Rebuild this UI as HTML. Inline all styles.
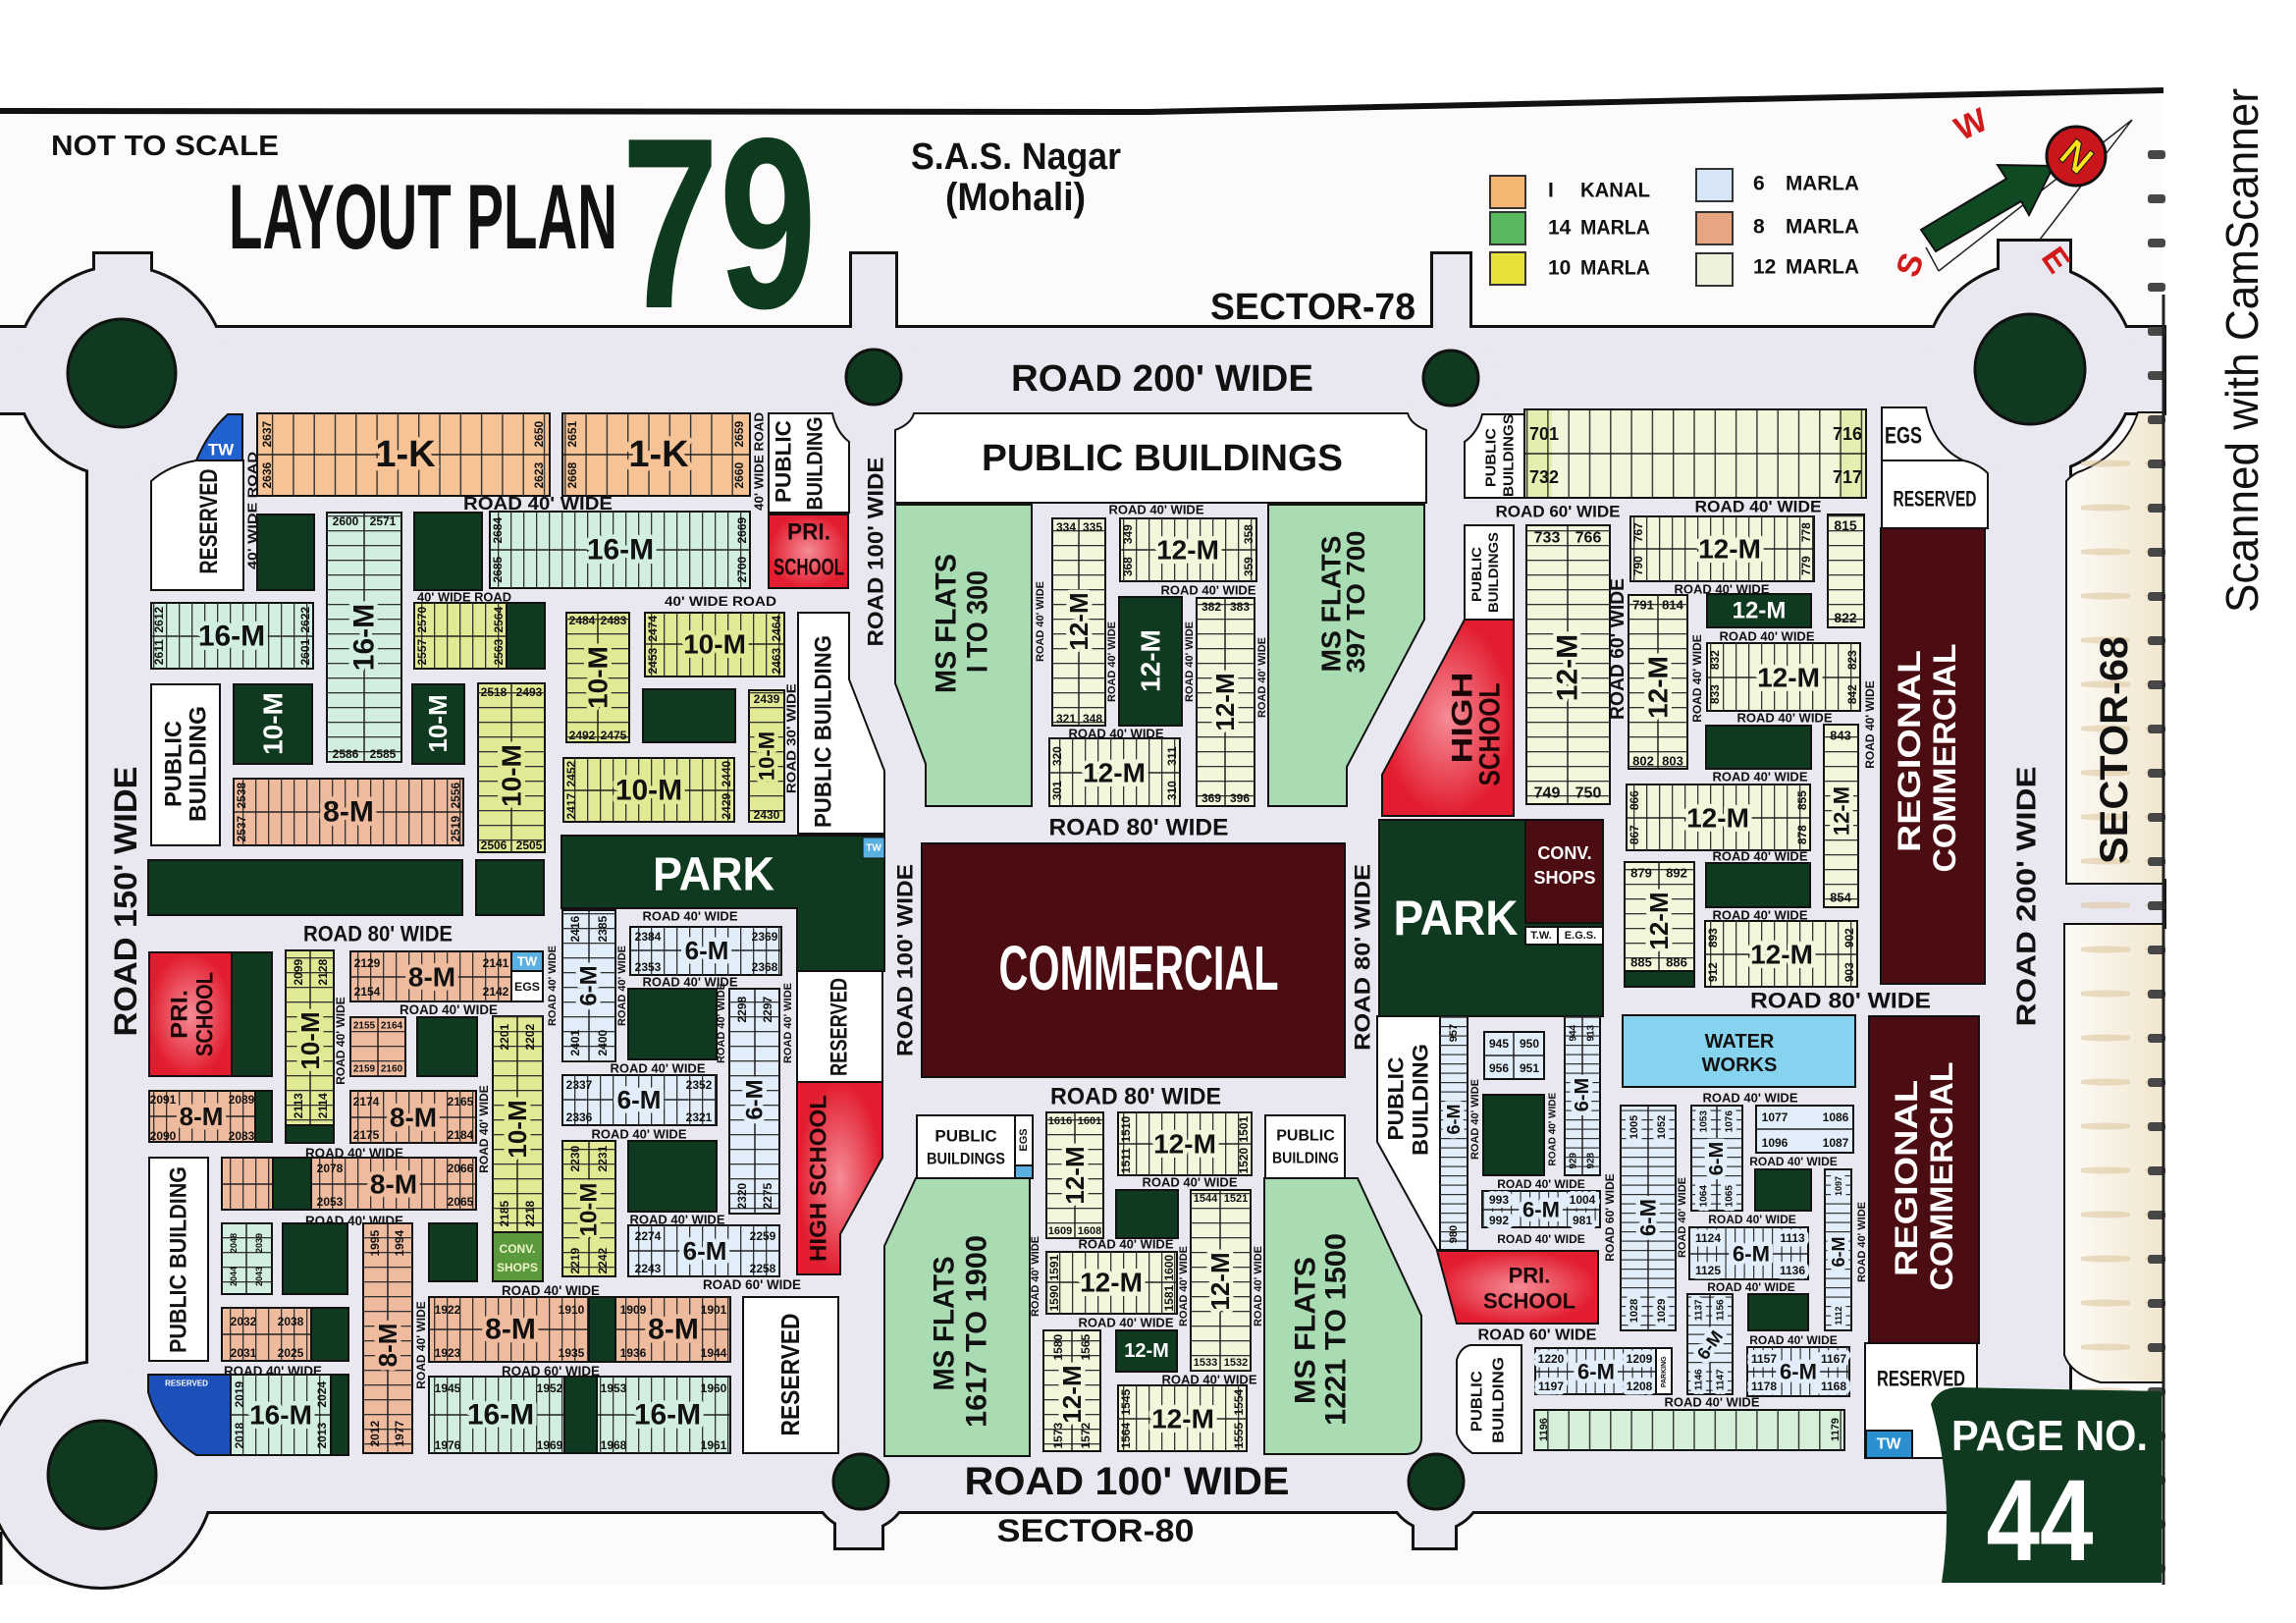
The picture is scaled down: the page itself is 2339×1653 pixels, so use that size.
<!DOCTYPE html>
<html><head><meta charset="utf-8"><title>Layout Plan 79</title>
<style>
html,body{margin:0;padding:0;background:#fff}
svg{display:block}
text{font-family:"Liberation Sans",Arial,sans-serif;font-weight:bold;fill:#111;text-anchor:middle;dominant-baseline:central}
.bl{dominant-baseline:alphabetic}
.st{text-anchor:start}
.v{transform-box:fill-box;transform-origin:center;transform:rotate(-90deg)}
.o{stroke:#111;stroke-width:2}
.fk{fill:#f6c396}.fg{fill:#d2eee0}.fy{fill:#e2e995}.fs{fill:#efbb9e}.fc{fill:#f4f6dc}.fb{fill:#e1edf8}
.hk{paint-order:stroke;stroke:#f6c396;stroke-width:9px;stroke-linejoin:round}
.hg{paint-order:stroke;stroke:#d2eee0;stroke-width:9px;stroke-linejoin:round}
.hy{paint-order:stroke;stroke:#e2e995;stroke-width:9px;stroke-linejoin:round}
.hs{paint-order:stroke;stroke:#efbb9e;stroke-width:9px;stroke-linejoin:round}
.hc{paint-order:stroke;stroke:#f4f6dc;stroke-width:9px;stroke-linejoin:round}
.hb{paint-order:stroke;stroke:#e1edf8;stroke-width:9px;stroke-linejoin:round}
.d{fill:#0f3a1f;stroke:#111;stroke-width:2}
.m{fill:#4b0d12;stroke:#111;stroke-width:2}
.w{fill:#fff;stroke:#111;stroke-width:2}
.red{fill:url(#rg);stroke:#111;stroke-width:2}
.ms{fill:#a9dcb3;stroke:#111;stroke-width:2}
.pv{fill:url(#pv)}.pk{fill:url(#pk)}.ph{fill:url(#ph)}.p9{fill:url(#p9)}.q9{fill:url(#q9)}
.ln{stroke:#222;stroke-width:1.5;fill:none}
.n{font-size:12px}
.rd{font-size:14px}
.wt{fill:#fff}
.dk{fill:#1c0506}
</style></head><body>
<svg width="2339" height="1653" viewBox="0 0 2339 1653" xmlns="http://www.w3.org/2000/svg">
<defs>
<pattern id="pv" width="13" height="8" patternUnits="userSpaceOnUse"><rect width="1.3" height="8" fill="#333"/></pattern>
<pattern id="pk" width="21.3" height="8" patternUnits="userSpaceOnUse"><rect width="1.4" height="8" fill="#333"/></pattern>
<pattern id="ph" width="8" height="15" patternUnits="userSpaceOnUse"><rect width="8" height="1.3" fill="#333"/></pattern>
<pattern id="p9" width="8" height="9.5" patternUnits="userSpaceOnUse"><rect width="8" height="1.2" fill="#333"/></pattern>
<pattern id="q9" width="9.5" height="8" patternUnits="userSpaceOnUse"><rect width="1.2" height="8" fill="#333"/></pattern>
<pattern id="ring" width="24" height="45" patternUnits="userSpaceOnUse"><rect x="4" y="18" width="18" height="9" rx="3" fill="#474747"/></pattern>
<pattern id="streak" width="70" height="45" patternUnits="userSpaceOnUse"><ellipse cx="45" cy="22" rx="30" ry="3.5" fill="#dcc49a" opacity=".55"/></pattern>
<radialGradient id="rg"><stop offset="0" stop-color="#f58c97"/><stop offset="1" stop-color="#e21d2f"/></radialGradient>
<linearGradient id="sec" x1="0" x2="1"><stop offset="0" stop-color="#fdfbf6"/><stop offset="1" stop-color="#f1e6cf"/></linearGradient>
<g id="roads">
<rect x="0" y="334" width="2204" height="86"/>
<rect x="90" y="378" width="63" height="1128"/>
<rect x="150" y="1487" width="1850" height="52"/>
<rect x="2021" y="376" width="87" height="1120"/>
<rect x="150" y="418" width="1875" height="1075"/>
<circle cx="123" cy="378" r="106"/>
<rect x="97" y="259" width="56" height="119"/>
<circle cx="2068" cy="376" r="106"/>
<rect x="2037" y="246" width="71" height="130"/>
<circle cx="103" cy="1502" r="114"/>
<circle cx="890" cy="384" r="48"/><rect x="868" y="259" width="44" height="125"/>
<circle cx="1478" cy="385" r="48"/><rect x="1460" y="259" width="37" height="126"/>
<circle cx="877" cy="1510" r="48"/><rect x="852" y="1510" width="46" height="66"/>
<circle cx="1462" cy="1510" r="48"/><rect x="1441" y="1510" width="41" height="66"/>
<rect x="2100" y="898" width="104" height="45"/>
</g>
</defs>

<rect width="2339" height="1653" fill="#fff"/>
<polygon points="0,113 1170,114 2204,92 2204,1614 0,1614" fill="#fcfafa"/>
<polyline points="0,113 1170,114 2204,92" fill="none" stroke="#111" stroke-width="6"/>

<!-- header -->
<text class="bl st" x="52" y="158" font-size="29" textLength="232" lengthAdjust="spacingAndGlyphs">NOT TO SCALE</text>
<text class="bl st" x="233" y="253" font-size="94" textLength="396" lengthAdjust="spacingAndGlyphs">LAYOUT PLAN</text>
<text class="bl st" x="633" y="313" font-size="248" textLength="199" lengthAdjust="spacingAndGlyphs" style="fill:#0e3a1d">79</text>
<text class="bl st" x="928" y="172" font-size="38" textLength="214" lengthAdjust="spacingAndGlyphs">S.A.S. Nagar</text>
<text class="bl st" x="963" y="214" font-size="40" textLength="143" lengthAdjust="spacingAndGlyphs">(Mohali)</text>
<text class="bl st" x="1233" y="325" font-size="38" textLength="209" lengthAdjust="spacingAndGlyphs">SECTOR-78</text>

<!-- scanner mark -->
<text class="v" x="2284" y="357" font-size="46" textLength="534" lengthAdjust="spacingAndGlyphs" style="font-weight:normal">Scanned with CamScanner</text>

<!-- roads -->
<use href="#roads" fill="#111" stroke="#111" stroke-width="6"/>
<use href="#roads" fill="#e9e7f0"/>

<!-- legend -->
<rect x="1518" y="179" width="36" height="33" fill="#f7b774" stroke="#333" stroke-width="2"/>
<rect x="1518" y="216" width="36" height="33" fill="#58b860" stroke="#333" stroke-width="2"/>
<rect x="1518" y="257" width="36" height="33" fill="#e5e03a" stroke="#333" stroke-width="2"/>
<rect x="1728" y="172" width="37" height="33" fill="#d7e6f7" stroke="#333" stroke-width="2"/>
<rect x="1728" y="216" width="37" height="33" fill="#e8a483" stroke="#333" stroke-width="2"/>
<rect x="1728" y="258" width="37" height="33" fill="#eef2dc" stroke="#333" stroke-width="2"/>
<g font-size="21">
<text class="st" x="1577" y="194">I</text><text class="st" x="1610" y="194" textLength="71" lengthAdjust="spacingAndGlyphs">KANAL</text>
<text class="st" x="1577" y="232">14</text><text class="st" x="1610" y="232" textLength="71" lengthAdjust="spacingAndGlyphs">MARLA</text>
<text class="st" x="1577" y="273">10</text><text class="st" x="1610" y="273" textLength="71" lengthAdjust="spacingAndGlyphs">MARLA</text>
<text class="st" x="1786" y="187">6</text><text class="st" x="1819" y="187" textLength="75" lengthAdjust="spacingAndGlyphs">MARLA</text>
<text class="st" x="1786" y="231">8</text><text class="st" x="1819" y="231" textLength="75" lengthAdjust="spacingAndGlyphs">MARLA</text>
<text class="st" x="1786" y="272">12</text><text class="st" x="1819" y="272" textLength="75" lengthAdjust="spacingAndGlyphs">MARLA</text>
</g>

<!-- sector 68 blocks -->
<path d="M2105,900 L2105,490 Q2112,482 2122,479 Q2165,460 2178,420 L2204,420 L2204,900 Z" fill="url(#sec)" stroke="#111" stroke-width="2"/>
<path d="M2103,941 L2204,941 L2204,1408 L2140,1408 Q2110,1400 2103,1380 Z" fill="url(#sec)" stroke="#111" stroke-width="2"/>
<rect x="2120" y="440" width="70" height="1170" fill="url(#streak)"/>
<text class="v" x="2154" y="764" font-size="40" textLength="232" lengthAdjust="spacingAndGlyphs">SECTOR-68</text>

<!-- compass (drawn after roads) -->
<path d="M1975,276 L2172,122 M2078,244 L2172,122 M1975,276 L1962,252" stroke="#222" stroke-width="1.5" fill="none"/>
<polygon points="1957,234 2044,182 2035,168 2092,169 2067,219 2059,205 1972,256" fill="#0f4a22" stroke="#111" stroke-width="2"/>
<circle cx="2115" cy="159" r="30" fill="#c8161c" stroke="#111" stroke-width="3"/>
<text x="2115" y="160" font-size="40" transform="rotate(40 2115 160)" style="fill:#ffe21a;stroke:#111;stroke-width:1">N</text>
<text x="2008" y="127" font-size="34" transform="rotate(-25 2008 127)" style="fill:#d11a1a">W</text>
<text x="1946" y="270" font-size="34" transform="rotate(-70 1946 270)" style="fill:#d11a1a">S</text>
<text x="2094" y="265" font-size="34" transform="rotate(55 2094 265)" style="fill:#d11a1a">E</text>

<!-- roundabout centers -->
<g fill="#0f3a1f" stroke="#111" stroke-width="3">
<circle cx="124" cy="380" r="55"/><circle cx="2068" cy="376" r="56"/><circle cx="104" cy="1502" r="55"/>
<circle cx="890" cy="384" r="28"/><circle cx="1478" cy="385" r="28"/><circle cx="877" cy="1509" r="28"/><circle cx="1463" cy="1509" r="28"/>
</g>

<!-- road labels outer -->
<text class="bl" x="1184" y="398" font-size="38" textLength="308" lengthAdjust="spacingAndGlyphs">ROAD 200' WIDE</text>
<text class="v" x="128" y="918" font-size="32" textLength="275" lengthAdjust="spacingAndGlyphs">ROAD 150' WIDE</text>
<text class="bl" x="1148" y="1522" font-size="40" textLength="331" lengthAdjust="spacingAndGlyphs">ROAD 100' WIDE</text>
<text class="bl" x="1116" y="1570" font-size="32" textLength="201" lengthAdjust="spacingAndGlyphs">SECTOR-80</text>
<text class="v" x="2064" y="913" font-size="28" textLength="265" lengthAdjust="spacingAndGlyphs">ROAD 200' WIDE</text>

<!-- ================= LEFT TOP ================= -->
<path d="M232,422 L247,422 L247,469 L200,469 Q212,440 232,422 Z" fill="#2062cf" stroke="#111" stroke-width="2"/>
<text x="225" y="458" font-size="17" class="wt">TW</text>
<path class="w" d="M200,469 L248,469 L248,601 L154,601 L154,490 Q172,474 200,469 Z"/>
<text class="v" x="213" y="531" font-size="25" textLength="107" lengthAdjust="spacingAndGlyphs">RESERVED</text>
<text class="v" x="257" y="520" font-size="13" textLength="120" lengthAdjust="spacingAndGlyphs">40' WIDE ROAD</text>

<rect class="fk o" x="262" y="421" width="298" height="84"/><rect class="pk" x="262" y="421" width="298" height="84"/><path class="ln" d="M262 463H560"/>
<text class="hk" x="413" y="463" font-size="38">1-K</text>
<text class="v n" x="272" y="442">2637</text><text class="v n" x="272" y="484">2636</text><text class="v n" x="549" y="442">2650</text><text class="v n" x="549" y="484">2623</text>
<rect class="fk o" x="573" y="421" width="191" height="84"/><rect class="pk" x="573" y="421" width="191" height="84"/><path class="ln" d="M573 463H764"/>
<text class="hk" x="671" y="463" font-size="38">1-K</text>
<text class="v n" x="583" y="442">2651</text><text class="v n" x="583" y="484">2668</text><text class="v n" x="753" y="442">2659</text><text class="v n" x="753" y="484">2660</text>
<text x="548" y="513" font-size="18" textLength="152" lengthAdjust="spacingAndGlyphs">ROAD 40' WIDE</text>
<text class="v" x="773" y="470" font-size="13" textLength="100" lengthAdjust="spacingAndGlyphs">40' WIDE ROAD</text>

<path class="w" d="M783,421 L848,421 Q852,440 865,450 L865,522 L783,522 Z"/>
<text class="v" x="798" y="470" font-size="22" textLength="84" lengthAdjust="spacingAndGlyphs">PUBLIC</text>
<text class="v" x="830" y="472" font-size="22" textLength="95" lengthAdjust="spacingAndGlyphs">BUILDING</text>
<rect class="red" x="783" y="524" width="81" height="75"/>
<text x="824" y="542" font-size="24" class="dk" textLength="44" lengthAdjust="spacingAndGlyphs">PRI.</text>
<text x="824" y="578" font-size="24" class="dk" textLength="72" lengthAdjust="spacingAndGlyphs">SCHOOL</text>

<rect class="d" x="262" y="524" width="58" height="77"/>
<rect class="fg o" x="333" y="522" width="76" height="254"/><rect class="ph" x="333" y="522" width="76" height="254"/><path class="ln" d="M371 522V776"/>
<text class="v hg" x="371" y="649" font-size="30">16-M</text>
<text class="n" x="352" y="531" font-size="11">2600</text><text class="n" x="390" y="531">2571</text><text class="n" x="352" y="768">2586</text><text class="n" x="390" y="768">2585</text>
<rect class="d" x="422" y="522" width="69" height="79"/>
<rect class="fg o" x="499" y="521" width="265" height="78"/><rect class="pv" x="499" y="521" width="265" height="78"/><path class="ln" d="M499 560H764"/>
<text class="hg" x="632" y="560" font-size="30">16-M</text>
<text class="v n" x="507" y="540">2684</text><text class="v n" x="507" y="580">2685</text><text class="v n" x="756" y="540">2669</text><text class="v n" x="756" y="580">2700</text>

<rect class="fg o" x="154" y="614" width="165" height="67"/><rect class="pv" x="154" y="614" width="165" height="67"/><path class="ln" d="M154 648H319"/>
<text class="hg" x="236" y="648" font-size="30">16-M</text>
<text class="v n" x="162" y="631">2612</text><text class="v n" x="162" y="664">2611</text><text class="v n" x="311" y="631">2622</text><text class="v n" x="311" y="664">2601</text>
<text x="473" y="608" font-size="13" textLength="96" lengthAdjust="spacingAndGlyphs">40' WIDE ROAD</text>
<rect class="fy o" x="422" y="614" width="94" height="67"/><rect class="pv" x="422" y="614" width="94" height="67"/><path class="ln" d="M422 648H516"/>
<text class="v n" x="430" y="631">2570</text><text class="v n" x="430" y="664">2557</text><text class="v n" x="508" y="631">2564</text><text class="v n" x="508" y="664">2563</text>
<rect class="d" x="516" y="614" width="39" height="67"/>
<text x="734" y="612" font-size="14" textLength="114" lengthAdjust="spacingAndGlyphs">40' WIDE ROAD</text>
<rect class="fy o" x="577" y="624" width="64" height="132"/><rect class="ph" x="577" y="624" width="64" height="132"/><path class="ln" d="M609 624V756"/>
<text class="v hy" x="609" y="690" font-size="28">10-M</text>
<text class="n" x="593" y="632" font-size="11">2484</text><text class="n" x="625" y="632">2483</text><text class="n" x="593" y="749">2492</text><text class="n" x="625" y="749">2475</text>
<rect class="fy o" x="657" y="624" width="142" height="65"/><rect class="pv" x="657" y="624" width="142" height="65"/><path class="ln" d="M657 656H799"/>
<text class="hy" x="728" y="656" font-size="28">10-M</text>
<text class="v n" x="665" y="640">2474</text><text class="v n" x="665" y="673">2453</text><text class="v n" x="791" y="640">2464</text><text class="v n" x="791" y="673">2463</text>

<path class="w" d="M813,624 L865,624 L865,692 L901,785 L901,849 L813,849 Z"/>
<text class="v" x="839" y="745" font-size="24" textLength="196" lengthAdjust="spacingAndGlyphs">PUBLIC BUILDING</text>
<text class="v" x="892" y="562" font-size="22" textLength="193" lengthAdjust="spacingAndGlyphs">ROAD 100' WIDE</text>

<rect class="w" x="154" y="697" width="70" height="164"/>
<text class="v" x="177" y="778" font-size="24" textLength="88" lengthAdjust="spacingAndGlyphs">PUBLIC</text>
<text class="v" x="202" y="778" font-size="24" textLength="118" lengthAdjust="spacingAndGlyphs">BUILDING</text>
<rect class="d" x="238" y="697" width="80" height="81"/><text class="v wt" x="278" y="737" font-size="28">10-M</text>
<rect class="d" x="420" y="697" width="53" height="81"/><text class="v wt" x="446" y="737" font-size="26">10-M</text>
<rect class="fy o" x="487" y="696" width="68" height="172"/><rect class="ph" x="487" y="696" width="68" height="172"/><path class="ln" d="M521 696V868"/>
<text class="v hy" x="521" y="790" font-size="28">10-M</text>
<text class="n" x="503" y="705" font-size="11">2518</text><text class="n" x="539" y="705">2493</text><text class="n" x="503" y="861">2506</text><text class="n" x="539" y="861">2505</text>
<rect class="d" x="655" y="702" width="94" height="54"/>
<rect class="fy o" x="763" y="703" width="36" height="134"/><rect class="ph" x="763" y="703" width="36" height="134"/>
<text class="v hy" x="781" y="770" font-size="22">10-M</text>
<text class="n" x="781" y="712">2439</text><text class="n" x="781" y="830">2430</text>
<text class="v" x="806" y="752" font-size="13" textLength="112" lengthAdjust="spacingAndGlyphs">ROAD 30' WIDE</text>
<rect class="fy o" x="574" y="772" width="174" height="65"/><rect class="pv" x="574" y="772" width="174" height="65"/><path class="ln" d="M574 805H748"/>
<text class="hy" x="661" y="805" font-size="30">10-M</text>
<text class="v n" x="582" y="788">2452</text><text class="v n" x="582" y="821">2417</text><text class="v n" x="740" y="788">2440</text><text class="v n" x="740" y="821">2429</text>
<rect class="fs o" x="238" y="793" width="234" height="68"/><rect class="pv" x="238" y="793" width="234" height="68"/><path class="ln" d="M238 827H472"/>
<text class="hs" x="355" y="827" font-size="30">8-M</text>
<text class="v n" x="246" y="810">2538</text><text class="v n" x="246" y="844">2537</text><text class="v n" x="464" y="810">2556</text><text class="v n" x="464" y="844">2519</text>

<rect class="d" x="151" y="876" width="320" height="56"/>
<rect class="d" x="485" y="876" width="69" height="56"/>
<path class="d" d="M572,851 H901 V989 H812 V925 H572 Z"/>
<text class="wt" x="727" y="891" font-size="48" textLength="124" lengthAdjust="spacingAndGlyphs">PARK</text>
<rect x="879" y="853" width="22" height="21" fill="#5ab0e0" stroke="#111" stroke-width="1"/><text x="890" y="864" font-size="10" class="wt">TW</text>
<text x="385" y="951" font-size="22" textLength="152" lengthAdjust="spacingAndGlyphs">ROAD 80' WIDE</text>

<!-- ================= LEFT LOWER ================= -->
<rect class="red" x="152" y="970" width="84" height="126"/><rect class="d" x="236" y="970" width="41" height="126"/>
<text class="v dk" x="183" y="1033" font-size="24" textLength="50" lengthAdjust="spacingAndGlyphs">PRI.</text>
<text class="v dk" x="209" y="1033" font-size="24" textLength="86" lengthAdjust="spacingAndGlyphs">SCHOOL</text>
<rect class="fy o" x="291" y="968" width="49" height="196"/><rect class="ph" x="291" y="968" width="49" height="196"/><path class="ln" d="M316 968V1164"/>
<rect class="d" x="291" y="1146" width="49" height="18"/>
<text class="v hy" x="316" y="1060" font-size="26">10-M</text>
<text class="v n" x="304" y="990">2099</text><text class="v n" x="329" y="990">2128</text><text class="v n" x="304" y="1126">2113</text><text class="v n" x="329" y="1126">2114</text>
<text class="v" x="347" y="1060" font-size="12">ROAD 40' WIDE</text>
<rect class="fs o" x="357" y="969" width="164" height="51"/><rect class="pv" x="357" y="969" width="164" height="51"/><path class="ln" d="M357 995H521"/>
<text class="hs" x="440" y="995" font-size="28">8-M</text>
<text class="n" x="374" y="981">2129</text><text class="n" x="374" y="1010">2154</text><text class="n" x="505" y="981">2141</text><text class="n" x="505" y="1010">2142</text>
<rect x="521" y="969" width="32" height="20" fill="#5ab0e0" stroke="#111" stroke-width="2"/><text x="537" y="979" font-size="13" class="wt">TW</text>
<rect class="w" x="521" y="989" width="32" height="31"/><text x="537" y="1005" font-size="12" textLength="26" lengthAdjust="spacingAndGlyphs">EGS</text>
<text x="457" y="1028" font-size="14" textLength="100" lengthAdjust="spacingAndGlyphs">ROAD 40' WIDE</text>
<rect class="fs o" x="357" y="1036" width="56" height="60"/><rect class="ph" x="357" y="1036" width="56" height="60"/><path class="ln" d="M385 1036V1096"/>
<text x="371" y="1045" font-size="10">2155</text><text x="399" y="1045" font-size="10">2164</text><text x="371" y="1089" font-size="10">2159</text><text x="399" y="1089" font-size="10">2160</text>
<rect class="d" x="425" y="1036" width="61" height="60"/>
<text class="v" x="493" y="1150" font-size="12">ROAD 40' WIDE</text>
<rect class="fy o" x="502" y="1035" width="51" height="220"/><rect class="ph" x="502" y="1035" width="51" height="220"/><path class="ln" d="M527 1035V1255"/>
<text class="v hy" x="527" y="1150" font-size="26">10-M</text>
<text class="v n" x="514" y="1056">2201</text><text class="v n" x="540" y="1056">2202</text><text class="v n" x="514" y="1236">2185</text><text class="v n" x="540" y="1236">2218</text>
<rect x="502" y="1255" width="51" height="50" fill="#5a9a3c" stroke="#111" stroke-width="2"/>
<text x="527" y="1272" font-size="12" style="fill:#eef3c8">CONV.</text><text x="527" y="1291" font-size="12" style="fill:#eef3c8">SHOPS</text>

<rect class="fs o" x="152" y="1111" width="108" height="52"/><rect class="pv" x="152" y="1111" width="108" height="52"/><path class="ln" d="M152 1137H260"/>
<text class="hs" x="205" y="1137" font-size="26">8-M</text>
<text class="n" x="166" y="1120" font-size="11">2091</text><text class="n" x="166" y="1157" font-size="11">2090</text><text class="n" x="246" y="1120" font-size="11">2089</text><text class="n" x="246" y="1157" font-size="11">2083</text>
<rect class="d" x="260" y="1111" width="17" height="52"/>
<rect class="fs o" x="357" y="1111" width="128" height="53"/><rect class="pv" x="357" y="1111" width="128" height="53"/><path class="ln" d="M357 1138H485"/>
<text class="hs" x="421" y="1138" font-size="28">8-M</text>
<text class="n" x="373" y="1122">2174</text><text class="n" x="373" y="1156">2175</text><text class="n" x="469" y="1122">2165</text><text class="n" x="469" y="1156">2184</text>
<text x="361" y="1174" font-size="14" textLength="100" lengthAdjust="spacingAndGlyphs">ROAD 40' WIDE</text>
<rect class="w" x="152" y="1179" width="60" height="207"/>
<text class="v" x="182" y="1283" font-size="24" textLength="190" lengthAdjust="spacingAndGlyphs">PUBLIC BUILDING</text>
<rect class="fs o" x="226" y="1179" width="259" height="53"/><rect class="pv" x="226" y="1179" width="259" height="53"/><path class="ln" d="M226 1206H485"/>
<rect class="d" x="278" y="1179" width="39" height="53"/>
<text class="hs" x="401" y="1206" font-size="28">8-M</text>
<text class="n" x="336" y="1190">2078</text><text class="n" x="336" y="1224">2053</text><text class="n" x="469" y="1190">2066</text><text class="n" x="469" y="1224">2065</text>
<text x="361" y="1243" font-size="14" textLength="100" lengthAdjust="spacingAndGlyphs">ROAD 40' WIDE</text>
<rect class="fg o" x="226" y="1246" width="51" height="72"/><rect class="ph" x="226" y="1246" width="51" height="72"/><path class="ln" d="M251 1246V1318"/>
<text class="v" x="238" y="1266" font-size="9">2048</text><text class="v" x="264" y="1266" font-size="9">2039</text><text class="v" x="238" y="1300" font-size="9">2044</text><text class="v" x="264" y="1300" font-size="9">2043</text>
<rect class="d" x="288" y="1246" width="66" height="72"/>
<rect class="fs o" x="370" y="1246" width="50" height="234"/><rect class="ph" x="370" y="1246" width="50" height="234"/><path class="ln" d="M395 1246V1480"/>
<text class="v hs" x="395" y="1370" font-size="26">8-M</text>
<text class="v n" x="382" y="1266">1995</text><text class="v n" x="407" y="1266">1994</text><text class="v n" x="382" y="1460">2012</text><text class="v n" x="407" y="1460">1977</text>
<rect class="d" x="437" y="1246" width="49" height="59"/>
<text class="v" x="429" y="1370" font-size="12">ROAD 40' WIDE</text>
<rect class="fs o" x="226" y="1332" width="91" height="54"/><rect class="pv" x="226" y="1332" width="91" height="54"/><path class="ln" d="M226 1359H317"/>
<rect class="d" x="317" y="1332" width="38" height="54"/>
<text class="n" x="248" y="1346">2032</text><text class="n" x="248" y="1378">2031</text><text class="n" x="296" y="1346">2038</text><text class="n" x="296" y="1378">2025</text>
<text x="278" y="1396" font-size="14" textLength="100" lengthAdjust="spacingAndGlyphs">ROAD 40' WIDE</text>
<path d="M151,1400 H235 V1482 H200 Q162,1458 151,1418 Z" fill="#1d4fb8" stroke="#111" stroke-width="2"/>
<text x="190" y="1409" font-size="8" class="wt">RESERVED</text>
<rect class="fg o" x="235" y="1400" width="102" height="82"/><rect class="pv" x="235" y="1400" width="102" height="82"/><path class="ln" d="M235 1441H337"/>
<rect class="d" x="337" y="1400" width="18" height="82"/>
<text class="hg" x="286" y="1441" font-size="28">16-M</text>
<text class="v n" x="244" y="1420">2019</text><text class="v n" x="244" y="1462">2018</text><text class="v n" x="328" y="1420">2024</text><text class="v n" x="328" y="1462">2013</text>

<text x="561" y="1314" font-size="14" textLength="100" lengthAdjust="spacingAndGlyphs">ROAD 40' WIDE</text>
<rect class="fs o" x="437" y="1321" width="163" height="66"/><rect class="pv" x="437" y="1321" width="163" height="66"/><path class="ln" d="M437 1354H600"/>
<rect class="d" x="600" y="1321" width="27" height="66"/>
<rect class="fs o" x="627" y="1321" width="117" height="66"/><rect class="pv" x="627" y="1321" width="117" height="66"/><path class="ln" d="M627 1354H744"/>
<text class="hs" x="520" y="1354" font-size="30">8-M</text><text class="hs" x="686" y="1354" font-size="30">8-M</text>
<text class="n" x="456" y="1334">1922</text><text class="n" x="456" y="1378">1923</text><text class="n" x="582" y="1334">1910</text><text class="n" x="582" y="1378">1935</text>
<text class="n" x="645" y="1334">1909</text><text class="n" x="645" y="1378">1936</text><text class="n" x="727" y="1334">1901</text><text class="n" x="727" y="1378">1944</text>
<text x="561" y="1396" font-size="14" textLength="100" lengthAdjust="spacingAndGlyphs">ROAD 60' WIDE</text>
<rect class="fg o" x="437" y="1402" width="138" height="78"/><rect class="pv" x="437" y="1402" width="138" height="78"/><path class="ln" d="M437 1441H575"/>
<rect class="d" x="575" y="1402" width="33" height="78"/>
<rect class="fg o" x="608" y="1402" width="136" height="78"/><rect class="pv" x="608" y="1402" width="136" height="78"/><path class="ln" d="M608 1441H744"/>
<text class="hg" x="510" y="1441" font-size="30">16-M</text><text class="hg" x="680" y="1441" font-size="30">16-M</text>
<text class="n" x="456" y="1414">1945</text><text class="n" x="456" y="1472">1976</text><text class="n" x="560" y="1414">1952</text><text class="n" x="560" y="1472">1969</text>
<text class="n" x="625" y="1414">1953</text><text class="n" x="625" y="1472">1968</text><text class="n" x="727" y="1414">1960</text><text class="n" x="727" y="1472">1961</text>
<rect class="w" x="757" y="1321" width="97" height="159"/>
<text class="v" x="805" y="1400" font-size="26" textLength="125" lengthAdjust="spacingAndGlyphs">RESERVED</text>
<text x="766" y="1308" font-size="14" textLength="100" lengthAdjust="spacingAndGlyphs">ROAD 60' WIDE</text>

<rect class="fb o" x="573" y="927" width="54" height="154"/><rect class="ph" x="573" y="927" width="54" height="154"/><path class="ln" d="M600 927V1081"/>
<text class="v hb" x="600" y="1004" font-size="24">6-M</text>
<text class="v n" x="586" y="946">2416</text><text class="v n" x="614" y="946">2385</text><text class="v n" x="586" y="1062">2401</text><text class="v n" x="614" y="1062">2400</text>
<text class="v" x="563" y="1004" font-size="11">ROAD 40' WIDE</text>
<text class="v" x="634" y="1004" font-size="11">ROAD 40' WIDE</text>
<text x="703" y="933" font-size="13">ROAD 40' WIDE</text>
<rect class="fb o" x="642" y="944" width="154" height="49"/><rect class="pv" x="642" y="944" width="154" height="49"/><path class="ln" d="M642 968H796"/>
<text class="hb" x="720" y="968" font-size="26">6-M</text>
<text class="n" x="660" y="954">2384</text><text class="n" x="660" y="985">2353</text><text class="n" x="779" y="954">2369</text><text class="n" x="779" y="985">2368</text>
<text x="703" y="1000" font-size="13">ROAD 40' WIDE</text>
<rect class="d" x="640" y="1007" width="90" height="72"/>
<rect class="fb o" x="743" y="1007" width="51" height="229"/><rect class="ph" x="743" y="1007" width="51" height="229"/><path class="ln" d="M769 1007V1236"/>
<text class="v hb" x="769" y="1120" font-size="24">6-M</text>
<text class="v n" x="756" y="1028">2298</text><text class="v n" x="782" y="1028">2297</text><text class="v n" x="756" y="1218">2320</text><text class="v n" x="782" y="1218">2275</text>
<text class="v" x="735" y="1042" font-size="11">ROAD 40' WIDE</text>
<text class="v" x="803" y="1042" font-size="11">ROAD 40' WIDE</text>
<text x="670" y="1088" font-size="13">ROAD 40' WIDE</text>
<rect class="fb o" x="573" y="1095" width="157" height="51"/><rect class="pv" x="573" y="1095" width="157" height="51"/><path class="ln" d="M573 1120H730"/>
<text class="hb" x="651" y="1120" font-size="26">6-M</text>
<text class="n" x="590" y="1105">2337</text><text class="n" x="590" y="1138">2336</text><text class="n" x="712" y="1105">2352</text><text class="n" x="712" y="1138">2321</text>
<text x="651" y="1155" font-size="13">ROAD 40' WIDE</text>
<rect class="fy o" x="573" y="1162" width="54" height="138"/><rect class="ph" x="573" y="1162" width="54" height="138"/><path class="ln" d="M600 1162V1300"/>
<text class="v hy" x="600" y="1232" font-size="24">10-M</text>
<text class="v n" x="586" y="1180">2230</text><text class="v n" x="614" y="1180">2231</text><text class="v n" x="586" y="1284">2219</text><text class="v n" x="614" y="1284">2242</text>
<rect class="d" x="640" y="1162" width="90" height="72"/>
<text x="690" y="1242" font-size="13">ROAD 40' WIDE</text>
<rect class="fb o" x="640" y="1248" width="154" height="52"/><rect class="pv" x="640" y="1248" width="154" height="52"/><path class="ln" d="M640 1274H794"/>
<text class="hb" x="718" y="1274" font-size="26">6-M</text>
<text class="n" x="660" y="1259">2274</text><text class="n" x="660" y="1292">2243</text><text class="n" x="777" y="1259">2259</text><text class="n" x="777" y="1292">2258</text>
<rect class="w" x="812" y="989" width="87" height="113"/>
<text class="v" x="855" y="1046" font-size="24" textLength="100" lengthAdjust="spacingAndGlyphs">RESERVED</text>
<polygon class="red" points="812,1102 899,1102 899,1179 856,1257 856,1298 812,1298"/>
<text class="v dk" x="834" y="1200" font-size="24" textLength="170" lengthAdjust="spacingAndGlyphs">HIGH SCHOOL</text>
<text class="v" x="922" y="978" font-size="22" textLength="196" lengthAdjust="spacingAndGlyphs">ROAD 100' WIDE</text>

<!-- ================= MIDDLE ================= -->
<path class="w" d="M912,438 Q928,432 931,421 L1434,421 Q1437,432 1453,438 L1453,512 L912,512 Z"/>
<text x="1184" y="467" font-size="38" textLength="368" lengthAdjust="spacingAndGlyphs">PUBLIC BUILDINGS</text>
<polygon class="ms" points="912,514 1051,514 1051,821 943,821 943,778 912,696"/>
<text class="v" x="964" y="635" font-size="30" textLength="142" lengthAdjust="spacingAndGlyphs">MS FLATS</text>
<text class="v" x="996" y="633" font-size="30" textLength="104" lengthAdjust="spacingAndGlyphs">I TO 300</text>
<text class="v" x="1060" y="633" font-size="11">ROAD 40' WIDE</text>
<rect class="fc o" x="1072" y="528" width="54" height="211"/><rect class="ph" x="1072" y="528" width="54" height="211"/><path class="ln" d="M1099 528V739"/>
<text class="v hc" x="1099" y="633" font-size="26">12-M</text>
<text class="n" x="1086" y="537">334</text><text class="n" x="1113" y="537">335</text><text class="n" x="1086" y="732">321</text><text class="n" x="1113" y="732">348</text>
<text x="1178" y="519" font-size="13">ROAD 40' WIDE</text>
<rect class="fc o" x="1141" y="528" width="139" height="64"/><rect class="pv" x="1141" y="528" width="139" height="64"/><path class="ln" d="M1141 560H1280"/>
<text class="hc" x="1210" y="560" font-size="28">12-M</text>
<text class="v n" x="1149" y="544">349</text><text class="v n" x="1149" y="577">368</text><text class="v n" x="1272" y="544">358</text><text class="v n" x="1272" y="577">359</text>
<text x="1231" y="601" font-size="13">ROAD 40' WIDE</text>
<rect class="d" x="1140" y="608" width="64" height="131"/><text class="v wt" x="1172" y="673" font-size="28">12-M</text>
<text class="v" x="1133" y="674" font-size="11">ROAD 40' WIDE</text>
<text class="v" x="1212" y="674" font-size="11">ROAD 40' WIDE</text>
<rect class="fc o" x="1219" y="609" width="59" height="212"/><rect class="ph" x="1219" y="609" width="59" height="212"/><path class="ln" d="M1248 609V821"/>
<text class="v hc" x="1248" y="715" font-size="26">12-M</text>
<text class="n" x="1234" y="618">382</text><text class="n" x="1263" y="618">383</text><text class="n" x="1234" y="813">369</text><text class="n" x="1263" y="813">396</text>
<text class="v" x="1286" y="690" font-size="11">ROAD 40' WIDE</text>
<text x="1137" y="747" font-size="13">ROAD 40' WIDE</text>
<rect class="fc o" x="1069" y="752" width="133" height="69"/><rect class="pv" x="1069" y="752" width="133" height="69"/><path class="ln" d="M1069 787H1202"/>
<text class="hc" x="1135" y="787" font-size="28">12-M</text>
<text class="v n" x="1077" y="770">320</text><text class="v n" x="1077" y="805">301</text><text class="v n" x="1194" y="770">311</text><text class="v n" x="1194" y="805">310</text>
<polygon class="ms" points="1292,514 1451,514 1451,631 1372,781 1372,821 1292,821"/>
<text class="v" x="1356" y="615" font-size="28" textLength="139" lengthAdjust="spacingAndGlyphs">MS FLATS</text>
<text class="v" x="1381" y="613" font-size="26" textLength="145" lengthAdjust="spacingAndGlyphs">397 TO 700</text>
<text x="1160" y="843" font-size="24" textLength="183" lengthAdjust="spacingAndGlyphs">ROAD 80' WIDE</text>
<rect class="m" x="939" y="859" width="431" height="238"/>
<text class="bl wt" x="1160" y="1008" font-size="64" textLength="285" lengthAdjust="spacingAndGlyphs">COMMERCIAL</text>
<text class="v" x="1388" y="975" font-size="22" textLength="190" lengthAdjust="spacingAndGlyphs">ROAD 80' WIDE</text>
<text x="1157" y="1117" font-size="24" textLength="174" lengthAdjust="spacingAndGlyphs">ROAD 80' WIDE</text>

<rect class="w" x="934" y="1136" width="100" height="64"/>
<text x="984" y="1157" font-size="17">PUBLIC</text><text x="984" y="1180" font-size="17" textLength="80" lengthAdjust="spacingAndGlyphs">BUILDINGS</text>
<rect class="w" x="1034" y="1136" width="18" height="51"/><text class="v" x="1043" y="1161" font-size="11">EGS</text>
<rect x="1034" y="1187" width="18" height="13" fill="#5ab0e0" stroke="#111" stroke-width="2"/>
<polygon class="ms" points="933,1200 1049,1200 1049,1483 901,1483 901,1269"/>
<text class="v" x="962" y="1348" font-size="30" textLength="137" lengthAdjust="spacingAndGlyphs">MS FLATS</text>
<text class="v" x="995" y="1356" font-size="30" textLength="196" lengthAdjust="spacingAndGlyphs">1617 TO 1900</text>
<rect class="fc o" x="1066" y="1133" width="58" height="128"/><rect class="ph" x="1066" y="1133" width="58" height="128"/><path class="ln" d="M1095 1133V1261"/>
<text class="v hc" x="1095" y="1197" font-size="26">12-M</text>
<text x="1080" y="1142" font-size="11">1616</text><text x="1110" y="1142" font-size="11">1601</text><text x="1080" y="1254" font-size="11">1609</text><text x="1110" y="1254" font-size="11">1608</text>
<rect class="fc o" x="1139" y="1133" width="136" height="64"/><rect class="pv" x="1139" y="1133" width="136" height="64"/><path class="ln" d="M1139 1165H1275"/>
<text class="hc" x="1207" y="1165" font-size="28">12-M</text>
<text class="v n" x="1147" y="1150">1510</text><text class="v n" x="1147" y="1182">1511</text><text class="v n" x="1267" y="1150">1501</text><text class="v n" x="1267" y="1182">1520</text>
<text x="1212" y="1204" font-size="13">ROAD 40' WIDE</text>
<rect class="d" x="1137" y="1212" width="63" height="49"/>
<rect class="fc o" x="1213" y="1212" width="61" height="184"/><rect class="ph" x="1213" y="1212" width="61" height="184"/><path class="ln" d="M1243 1212V1396"/>
<text class="v hc" x="1243" y="1305" font-size="26">12-M</text>
<text x="1228" y="1221" font-size="11">1544</text><text x="1259" y="1221" font-size="11">1521</text><text x="1228" y="1388" font-size="11">1533</text><text x="1259" y="1388" font-size="11">1532</text>
<text x="1147" y="1267" font-size="13">ROAD 40' WIDE</text>
<rect class="fc o" x="1066" y="1275" width="133" height="63"/><rect class="pv" x="1066" y="1275" width="133" height="63"/><path class="ln" d="M1066 1306H1199"/>
<text class="hc" x="1132" y="1306" font-size="28">12-M</text>
<text class="v n" x="1074" y="1291">1591</text><text class="v n" x="1074" y="1322">1590</text><text class="v n" x="1191" y="1291">1600</text><text class="v n" x="1191" y="1322">1581</text>
<text class="v" x="1055" y="1300" font-size="11">ROAD 40' WIDE</text>
<text class="v" x="1206" y="1310" font-size="11">ROAD 40' WIDE</text>
<text class="v" x="1282" y="1310" font-size="11">ROAD 40' WIDE</text>
<text x="1147" y="1347" font-size="13">ROAD 40' WIDE</text>
<rect class="fc o" x="1063" y="1355" width="58" height="123"/><rect class="ph" x="1063" y="1355" width="58" height="123"/><path class="ln" d="M1092 1355V1478"/>
<text class="v hc" x="1092" y="1420" font-size="26">12-M</text>
<text class="v n" x="1078" y="1372">1580</text><text class="v n" x="1106" y="1372">1565</text><text class="v n" x="1078" y="1462">1573</text><text class="v n" x="1106" y="1462">1572</text>
<rect class="d" x="1137" y="1355" width="62" height="42"/><text class="wt" x="1168" y="1376" font-size="20">12-M</text>
<text x="1232" y="1405" font-size="13">ROAD 40' WIDE</text>
<rect class="fc o" x="1139" y="1411" width="131" height="67"/><rect class="pv" x="1139" y="1411" width="131" height="67"/><path class="ln" d="M1139 1445H1270"/>
<text class="hc" x="1205" y="1445" font-size="28">12-M</text>
<text class="v n" x="1147" y="1428">1545</text><text class="v n" x="1147" y="1462">1564</text><text class="v n" x="1262" y="1428">1554</text><text class="v n" x="1262" y="1462">1555</text>
<rect class="w" x="1289" y="1136" width="81" height="64"/>
<text x="1330" y="1157" font-size="16">PUBLIC</text><text x="1330" y="1180" font-size="16" textLength="68" lengthAdjust="spacingAndGlyphs">BUILDING</text>
<path class="ms" d="M1288,1200 H1383 L1448,1340 V1466 Q1446,1481 1432,1481 H1288 Z"/>
<text class="v" x="1330" y="1355" font-size="30" textLength="150" lengthAdjust="spacingAndGlyphs">MS FLATS</text>
<text class="v" x="1361" y="1354" font-size="30" textLength="196" lengthAdjust="spacingAndGlyphs">1221 TO 1500</text>

<!-- ================= RIGHT ================= -->
<path class="w" d="M1492,450 Q1506,440 1510,422 L1553,422 L1553,507 L1492,507 Z"/>
<text class="v" x="1519" y="466" font-size="15" textLength="60" lengthAdjust="spacingAndGlyphs">PUBLIC</text>
<text class="v" x="1537" y="464" font-size="15" textLength="84" lengthAdjust="spacingAndGlyphs">BUILDINGS</text>
<rect class="fc o" x="1553" y="417" width="348" height="90"/>
<rect x="1553" y="417" width="28" height="90" fill="#e4eeb0"/><rect x="1873" y="417" width="28" height="90" fill="#e4eeb0"/>
<rect class="pk" x="1553" y="417" width="348" height="90"/><path class="ln" d="M1553 462H1901"/><rect class="o" x="1553" y="417" width="348" height="90" fill="none"/>
<text x="1573" y="442" font-size="18">701</text><text x="1573" y="486" font-size="18">732</text><text x="1882" y="442" font-size="18">716</text><text x="1882" y="486" font-size="18">717</text>
<path class="w" d="M1917,415 L1962,415 Q1970,455 2000,469 L1917,469 Z"/>
<text x="1939" y="444" font-size="24" textLength="38" lengthAdjust="spacingAndGlyphs">EGS</text>
<path class="w" d="M1917,469 L2000,469 Q2015,472 2025,482 L2025,538 L1917,538 Z"/>
<text x="1971" y="508" font-size="22" textLength="85" lengthAdjust="spacingAndGlyphs">RESERVED</text>
<rect class="m" x="1916" y="538" width="106" height="464"/>
<text class="v wt" x="1945" y="765" font-size="32" textLength="206" lengthAdjust="spacingAndGlyphs">REGIONAL</text>
<text class="v wt" x="1981" y="772" font-size="32" textLength="233" lengthAdjust="spacingAndGlyphs">COMMERCIAL</text>
<text x="1587" y="521" font-size="17" textLength="127" lengthAdjust="spacingAndGlyphs">ROAD 60' WIDE</text>
<text x="1791" y="516" font-size="17" textLength="129" lengthAdjust="spacingAndGlyphs">ROAD 40' WIDE</text>
<rect class="w" x="1492" y="535" width="50" height="96"/>
<text class="v" x="1504" y="585" font-size="14" textLength="56" lengthAdjust="spacingAndGlyphs">PUBLIC</text>
<text class="v" x="1521" y="583" font-size="14" textLength="82" lengthAdjust="spacingAndGlyphs">BUILDINGS</text>
<polygon class="red" points="1492,631 1542,631 1542,831 1408,831 1408,789"/>
<text class="v dk" x="1490" y="731" font-size="30" textLength="93" lengthAdjust="spacingAndGlyphs">HIGH</text>
<text class="v dk" x="1518" y="748" font-size="30" textLength="105" lengthAdjust="spacingAndGlyphs">SCHOOL</text>
<rect class="fc o" x="1555" y="535" width="85" height="284"/><rect class="ph" x="1555" y="535" width="85" height="284"/><path class="ln" d="M1597 535V819"/>
<text class="v hc" x="1597" y="680" font-size="30">12-M</text>
<text x="1576" y="548" font-size="16">733</text><text x="1618" y="548" font-size="16">766</text><text x="1576" y="808" font-size="16">749</text><text x="1618" y="808" font-size="16">750</text>
<text class="v" x="1648" y="661" font-size="20" textLength="144" lengthAdjust="spacingAndGlyphs">ROAD 60' WIDE</text>
<rect class="fc o" x="1661" y="526" width="187" height="66"/><rect class="pv" x="1661" y="526" width="187" height="66"/><path class="ln" d="M1661 559H1848"/>
<text class="hc" x="1762" y="559" font-size="28">12-M</text>
<text class="v n" x="1669" y="542">767</text><text class="v n" x="1669" y="576">790</text><text class="v n" x="1840" y="542">778</text><text class="v n" x="1840" y="576">779</text>
<rect class="fc o" x="1862" y="524" width="37" height="115"/><rect class="ph" x="1862" y="524" width="37" height="115"/>
<text x="1880" y="535" font-size="14">815</text><text x="1880" y="629" font-size="14">822</text>
<text x="1754" y="600" font-size="13">ROAD 40' WIDE</text>
<rect class="fc o" x="1659" y="606" width="60" height="177"/><rect class="ph" x="1659" y="606" width="60" height="177"/><path class="ln" d="M1689 606V783"/>
<text class="v hc" x="1689" y="700" font-size="28">12-M</text>
<text x="1674" y="616" font-size="13">791</text><text x="1704" y="616" font-size="13">814</text><text x="1674" y="775" font-size="13">802</text><text x="1704" y="775" font-size="13">803</text>
<rect class="d" x="1739" y="605" width="106" height="34"/><text class="wt" x="1792" y="622" font-size="24">12-M</text>
<text x="1800" y="648" font-size="13">ROAD 40' WIDE</text>
<text class="v" x="1729" y="691" font-size="12">ROAD 40' WIDE</text>
<rect class="fc o" x="1739" y="655" width="156" height="69"/><rect class="pv" x="1739" y="655" width="156" height="69"/><path class="ln" d="M1739 690H1895"/>
<text class="hc" x="1822" y="690" font-size="28">12-M</text>
<text class="v n" x="1747" y="672">832</text><text class="v n" x="1747" y="707">833</text><text class="v n" x="1887" y="672">823</text><text class="v n" x="1887" y="707">842</text>
<text x="1818" y="731" font-size="13">ROAD 40' WIDE</text>
<rect class="d" x="1738" y="739" width="107" height="44"/>
<rect class="fc o" x="1858" y="738" width="35" height="186"/><rect class="ph" x="1858" y="738" width="35" height="186"/>
<text class="v hc" x="1876" y="826" font-size="22">12-M</text>
<text x="1875" y="749" font-size="13">843</text><text x="1875" y="914" font-size="13">854</text>
<text class="v" x="1905" y="738" font-size="12">ROAD 40' WIDE</text>
<text x="1793" y="791" font-size="13">ROAD 40' WIDE</text>
<rect class="fc o" x="1657" y="799" width="187" height="67"/><rect class="pv" x="1657" y="799" width="187" height="67"/><path class="ln" d="M1657 833H1844"/>
<text class="hc" x="1750" y="833" font-size="28">12-M</text>
<text class="v n" x="1665" y="815">866</text><text class="v n" x="1665" y="850">867</text><text class="v n" x="1836" y="815">855</text><text class="v n" x="1836" y="850">878</text>
<text x="1793" y="872" font-size="13">ROAD 40' WIDE</text>
<rect class="d" x="1738" y="879" width="106" height="45"/>
<rect class="fc o" x="1655" y="878" width="71" height="127"/><rect class="ph" x="1655" y="878" width="71" height="127"/><path class="ln" d="M1690 878V989"/>
<rect class="d" x="1655" y="989" width="71" height="16"/>
<text class="v hc" x="1690" y="938" font-size="26">12-M</text>
<text x="1672" y="889" font-size="13">879</text><text x="1708" y="889" font-size="13">892</text><text x="1672" y="980" font-size="13">885</text><text x="1708" y="980" font-size="13">886</text>
<text x="1793" y="932" font-size="13">ROAD 40' WIDE</text>
<rect class="fc o" x="1737" y="938" width="155" height="67"/><rect class="pv" x="1737" y="938" width="155" height="67"/><path class="ln" d="M1737 972H1892"/>
<text class="hc" x="1815" y="972" font-size="28">12-M</text>
<text class="v n" x="1745" y="955">893</text><text class="v n" x="1745" y="990">912</text><text class="v n" x="1884" y="955">902</text><text class="v n" x="1884" y="990">903</text>
<text x="1875" y="1019" font-size="22" textLength="184" lengthAdjust="spacingAndGlyphs">ROAD 80' WIDE</text>

<rect class="d" x="1405" y="835" width="228" height="200"/>
<rect class="m" x="1554" y="835" width="79" height="105"/>
<text class="wt" x="1594" y="869" font-size="18">CONV.</text><text class="wt" x="1594" y="894" font-size="18">SHOPS</text>
<rect class="w" x="1554" y="944" width="33" height="18"/><text x="1570" y="953" font-size="11">T.W.</text>
<rect class="w" x="1587" y="944" width="46" height="18"/><text x="1610" y="953" font-size="11">E.G.S.</text>
<text class="wt" x="1483" y="935" font-size="50" textLength="127" lengthAdjust="spacingAndGlyphs">PARK</text>

<polygon class="w" points="1403,1035 1467,1035 1467,1273 1464,1273 1403,1163"/>
<text class="v" x="1422" y="1119" font-size="22" textLength="85" lengthAdjust="spacingAndGlyphs">PUBLIC</text>
<text class="v" x="1447" y="1120" font-size="22" textLength="114" lengthAdjust="spacingAndGlyphs">BUILDING</text>
<rect class="fb o" x="1467" y="1035" width="28" height="238"/><rect class="p9" x="1467" y="1035" width="28" height="238"/>
<text class="v hb" x="1481" y="1140" font-size="18">6-M</text>
<text class="v" x="1481" y="1052" font-size="11">957</text><text class="v" x="1481" y="1257" font-size="11">980</text>
<text class="v" x="1503" y="1140" font-size="11">ROAD 40' WIDE</text>
<rect class="fb o" x="1512" y="1051" width="61" height="48"/><path class="ln" d="M1542 1051V1099M1512 1075H1573"/>
<text x="1527" y="1063" font-size="12">945</text><text x="1558" y="1063" font-size="12">950</text><text x="1527" y="1088" font-size="12">956</text><text x="1558" y="1088" font-size="12">951</text>
<rect class="d" x="1511" y="1115" width="62" height="82"/>
<text class="v" x="1582" y="1150" font-size="10">ROAD 40' WIDE</text>
<rect class="fb o" x="1594" y="1035" width="36" height="162"/><rect class="p9" x="1594" y="1035" width="36" height="162"/><path class="ln" d="M1612 1035V1197"/>
<text class="v hb" x="1612" y="1115" font-size="20">6-M</text>
<text class="v" x="1603" y="1052" font-size="10">944</text><text class="v" x="1621" y="1052" font-size="10">913</text><text class="v" x="1603" y="1182" font-size="10">929</text><text class="v" x="1621" y="1182" font-size="10">928</text>
<text x="1570" y="1206" font-size="12">ROAD 40' WIDE</text>
<rect class="fb o" x="1510" y="1213" width="120" height="37"/><rect class="q9" x="1510" y="1213" width="120" height="37"/><path class="ln" d="M1510 1232H1630"/>
<text class="hb" x="1570" y="1232" font-size="22">6-M</text>
<text class="hb" x="1527" y="1222" font-size="12">993</text><text class="hb" x="1527" y="1243" font-size="12">992</text><text class="hb" x="1612" y="1222" font-size="12">1004</text><text class="hb" x="1612" y="1243" font-size="12">981</text>
<text x="1570" y="1262" font-size="12">ROAD 40' WIDE</text>
<polygon class="red" points="1464,1274 1628,1274 1628,1348 1484,1348"/>
<text class="dk" x="1558" y="1299" font-size="22">PRI.</text><text class="dk" x="1558" y="1325" font-size="22">SCHOOL</text>
<text x="1566" y="1360" font-size="16" textLength="121" lengthAdjust="spacingAndGlyphs">ROAD 60' WIDE</text>
<text class="v" x="1640" y="1240" font-size="12">ROAD 60' WIDE</text>
<rect x="1653" y="1034" width="237" height="73" fill="#85d3ef" stroke="#111" stroke-width="2"/>
<text x="1772" y="1061" font-size="20">WATER</text><text x="1772" y="1085" font-size="20">WORKS</text>
<text x="1783" y="1118" font-size="13">ROAD 40' WIDE</text>
<rect class="fb o" x="1651" y="1126" width="56" height="229"/><rect class="p9" x="1651" y="1126" width="56" height="229"/><path class="ln" d="M1679 1126V1355"/>
<text class="v hb" x="1679" y="1240" font-size="22">6-M</text>
<text class="v hb" x="1665" y="1148" font-size="11">1005</text><text class="v hb" x="1693" y="1148" font-size="11">1052</text><text class="v hb" x="1665" y="1335" font-size="11">1028</text><text class="v hb" x="1693" y="1335" font-size="11">1029</text>
<text class="v" x="1714" y="1240" font-size="11">ROAD 40' WIDE</text>
<rect class="fb o" x="1723" y="1126" width="52" height="107"/><rect class="p9" x="1723" y="1126" width="52" height="107"/><path class="ln" d="M1749 1126V1233"/>
<text class="v hb" x="1749" y="1180" font-size="20">6-M</text>
<text class="v hb" x="1736" y="1142" font-size="10">1053</text><text class="v hb" x="1762" y="1142" font-size="10">1076</text><text class="v hb" x="1736" y="1218" font-size="10">1064</text><text class="v hb" x="1762" y="1218" font-size="10">1065</text>
<rect class="fb o" x="1789" y="1126" width="99" height="48"/><path class="ln" d="M1789 1150H1888"/>
<text x="1808" y="1138" font-size="12">1077</text><text x="1870" y="1138" font-size="12">1086</text><text x="1808" y="1164" font-size="12">1096</text><text x="1870" y="1164" font-size="12">1087</text>
<text x="1827" y="1183" font-size="12">ROAD 40' WIDE</text>
<rect class="d" x="1788" y="1191" width="57" height="42"/>
<rect class="fb o" x="1859" y="1191" width="27" height="164"/><rect class="p9" x="1859" y="1191" width="27" height="164"/>
<text class="v hb" x="1873" y="1275" font-size="18">6-M</text>
<text class="v hb" x="1873" y="1208" font-size="9">1097</text><text class="v hb" x="1873" y="1340" font-size="9">1112</text>
<text class="v" x="1897" y="1265" font-size="11">ROAD 40' WIDE</text>
<text x="1785" y="1242" font-size="12">ROAD 40' WIDE</text>
<rect class="fb o" x="1721" y="1250" width="121" height="53"/><rect class="q9" x="1721" y="1250" width="121" height="53"/><path class="ln" d="M1721 1277H1842"/>
<text class="hb" x="1784" y="1277" font-size="22">6-M</text>
<text class="hb" x="1740" y="1261" font-size="12">1124</text><text class="hb" x="1740" y="1294" font-size="12">1125</text><text class="hb" x="1826" y="1261" font-size="12">1113</text><text class="hb" x="1826" y="1294" font-size="12">1136</text>
<text x="1784" y="1311" font-size="12">ROAD 40' WIDE</text>
<rect class="fb o" x="1719" y="1318" width="46" height="102"/><rect class="p9" x="1719" y="1318" width="46" height="102"/><path class="ln" d="M1742 1318V1420"/>
<text class="hb" x="1742" y="1370" font-size="18" transform="rotate(-55 1742 1370)">6-M</text>
<text class="v hb" x="1731" y="1334" font-size="10">1137</text><text class="v hb" x="1753" y="1334" font-size="10">1156</text><text class="v hb" x="1731" y="1405" font-size="10">1146</text><text class="v hb" x="1753" y="1405" font-size="10">1147</text>
<rect class="d" x="1781" y="1318" width="61" height="37"/>
<text x="1827" y="1365" font-size="12">ROAD 40' WIDE</text>
<path class="w" d="M1484,1385 Q1488,1372 1498,1370 L1550,1370 L1550,1480 L1500,1480 Q1488,1472 1484,1460 Z"/>
<text class="v" x="1505" y="1427" font-size="16" textLength="62" lengthAdjust="spacingAndGlyphs">PUBLIC</text>
<text class="v" x="1527" y="1426" font-size="16" textLength="88" lengthAdjust="spacingAndGlyphs">BUILDING</text>
<rect class="fb o" x="1564" y="1373" width="123" height="47"/><rect class="q9" x="1564" y="1373" width="123" height="47"/><path class="ln" d="M1564 1397H1687"/>
<text class="hb" x="1626" y="1397" font-size="22">6-M</text>
<text class="hb" x="1580" y="1384" font-size="12">1220</text><text class="hb" x="1580" y="1412" font-size="12">1197</text><text class="hb" x="1670" y="1384" font-size="12">1209</text><text class="hb" x="1670" y="1412" font-size="12">1208</text>
<rect class="w" x="1687" y="1373" width="16" height="47"/><text class="v" x="1695" y="1397" font-size="7">PARKING</text>
<rect class="fb o" x="1780" y="1372" width="104" height="50"/><rect class="q9" x="1780" y="1372" width="104" height="50"/><path class="ln" d="M1780 1397H1884"/>
<text class="hb" x="1832" y="1397" font-size="22">6-M</text>
<text class="hb" x="1797" y="1384" font-size="12">1157</text><text class="hb" x="1797" y="1412" font-size="12">1178</text><text class="hb" x="1868" y="1384" font-size="12">1167</text><text class="hb" x="1868" y="1412" font-size="12">1168</text>
<text x="1744" y="1428" font-size="13">ROAD 40' WIDE</text>
<rect x="1563" y="1436" width="316" height="41" fill="#d5efd9" stroke="#111" stroke-width="2"/>
<rect x="1563" y="1436" width="316" height="41" fill="url(#pk)"/>
<text class="v" x="1573" y="1456" font-size="11">1196</text><text class="v" x="1870" y="1456" font-size="11">1179</text>
<rect class="m" x="1904" y="1035" width="112" height="333"/>
<text class="v wt" x="1942" y="1200" font-size="32" textLength="200" lengthAdjust="spacingAndGlyphs">REGIONAL</text>
<text class="v wt" x="1978" y="1198" font-size="32" textLength="233" lengthAdjust="spacingAndGlyphs">COMMERCIAL</text>
<rect class="w" x="1900" y="1368" width="114" height="117"/>
<text x="1957" y="1404" font-size="22" textLength="90" lengthAdjust="spacingAndGlyphs">RESERVED</text>
<rect x="1901" y="1457" width="47" height="28" fill="#2a90d0" stroke="#111" stroke-width="2"/><text x="1924" y="1471" font-size="16" class="wt">TW</text>

<!-- binding -->
<rect x="2182" y="120" width="24" height="1495" fill="url(#ring)"/>
<line x1="2204" y1="300" x2="2204" y2="1614" stroke="#222" stroke-width="3"/>
<line x1="1" y1="1560" x2="1" y2="1614" stroke="#111" stroke-width="3"/>

<!-- page badge -->
<path d="M1967,1430 Q1975,1413 1995,1413 L2202,1417 L2202,1612 L1978,1612 Q1992,1520 1967,1430 Z" fill="#0f3a1f"/>
<text class="bl wt" x="2088" y="1477" font-size="44" textLength="200" lengthAdjust="spacingAndGlyphs">PAGE NO.</text>
<text class="bl wt" x="2078" y="1589" font-size="118" textLength="109" lengthAdjust="spacingAndGlyphs">44</text>
</svg>
</body></html>
